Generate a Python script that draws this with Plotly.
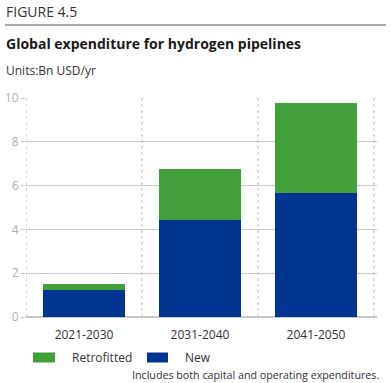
import plotly.graph_objects as go

categories = ["2021-2030", "2031-2040", "2041-2050"]
new_values = [1.25, 4.41, 5.65]
retrofitted_values = [0.27, 2.37, 4.14]
y_ticks = [0, 2, 4, 6, 8, 10]
legend_labels = ["Retrofitted", "New"]

GREEN = "#41a039"
BLUE = "#003591"
FONT = "'Open Sans', sans-serif"

# plot area in pixels: x 26..377, y 98..317
L, R, T, B = 26, 377, 98, 317
W, H = R - L, B - T


def px(x):
    return (x - L) / W


def py(y):
    return (B - y) / H


fig = go.Figure()
fig.add_bar(x=categories, y=new_values, name="New", marker=dict(color=BLUE, line=dict(width=0)))
fig.add_bar(x=categories, y=retrofitted_values, name="Retrofitted", marker=dict(color=GREEN, line=dict(width=0)))

# dotted vertical separators between categories
for xv in [-0.5, 0.5, 1.5, 2.5]:
    fig.add_shape(type="line", xref="x", yref="y", x0=xv, x1=xv, y0=0, y1=10,
                  line=dict(color="#bdbdbd", width=1, dash="dot"), layer="below")

# header rule
fig.add_shape(type="line", xref="paper", yref="paper", x0=px(5), x1=px(386), y0=py(25), y1=py(25),
              line=dict(color="#555555", width=1.2))

fig.add_annotation(text="FIGURE 4.5", xref="paper", yref="paper", x=px(4), y=py(12),
                   xanchor="left", yanchor="middle", showarrow=False,
                   font=dict(family=FONT, size=14, color="#333333"))
fig.add_annotation(text="<b>Global expenditure for hydrogen pipelines</b>", xref="paper", yref="paper",
                   x=px(4), y=py(44), xanchor="left", yanchor="middle", showarrow=False,
                   font=dict(family=FONT, size=14, color="#1a1a1a"))
fig.add_annotation(text="Units:Bn USD/yr", xref="paper", yref="paper", x=px(4), y=py(70),
                   xanchor="left", yanchor="middle", showarrow=False,
                   font=dict(family=FONT, size=12, color="#333333"))
fig.add_annotation(text="Includes both capital and operating expenditures.", xref="paper", yref="paper",
                   x=px(381), y=py(374.5), xanchor="right", yanchor="middle", showarrow=False,
                   font=dict(family=FONT, size=10.7, color="#333333"))

# legend (swatches + labels)
legend_colors = [GREEN, BLUE]
swatch_x = [(33, 55), (147, 168)]
label_x = [70, 183]
for lab, col, (x0, x1), lx in zip(legend_labels, legend_colors, swatch_x, label_x):
    fig.add_shape(type="rect", xref="paper", yref="paper", x0=px(x0), x1=px(x1),
                  y0=py(362.5), y1=py(352.5), fillcolor=col, line=dict(width=0))
    fig.add_annotation(text=lab, xref="paper", yref="paper", x=px(lx), y=py(357.5),
                       xanchor="left", yanchor="middle", showarrow=False,
                       font=dict(family=FONT, size=12, color="#333333"))

fig.update_layout(
    width=391, height=383,
    margin=dict(l=L, r=391 - R, t=T, b=383 - B, autoexpand=False),
    barmode="stack",
    bargap=0.3,
    plot_bgcolor="white", paper_bgcolor="white",
    font=dict(family=FONT, color="#333333"),
    showlegend=False,
    xaxis=dict(showgrid=False, showline=False, ticks="", tickfont=dict(size=12, color="#333333"),
               range=[-0.5, 2.526], automargin=False, ticklabelstandoff=9),
    yaxis=dict(range=[0, 10], tickvals=y_ticks, showgrid=True, gridcolor="#c8c8c8", gridwidth=1,
               zeroline=True, zerolinecolor="#c8c8c8", showline=False,
               ticks="outside", ticklen=4, tickcolor="#c8c8c8",
               tickfont=dict(size=12, color="#b0b0b0"), automargin=False),
)

fig.write_html("out.html", config={"displayModeBar": False},
               post_script="document.body.style.margin='0';")
